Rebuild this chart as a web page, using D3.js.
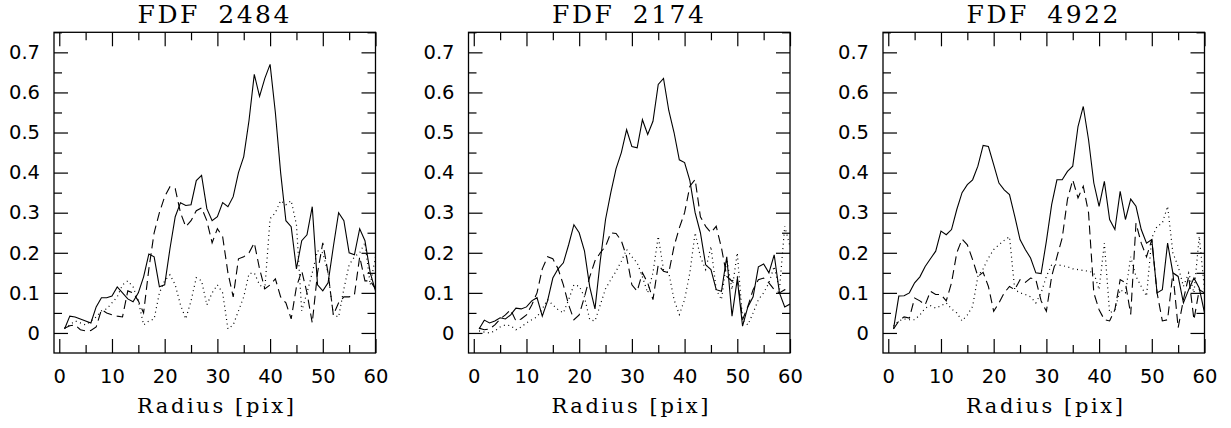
<!DOCTYPE html>
<html>
<head>
<meta charset="utf-8">
<script src="https://cdn.jsdelivr.net/npm/d3@7"></script>
<style>
  html, body { margin: 0; padding: 0; background: #fff; }
  svg { display: block; }
  .tick text { font-family: "DejaVu Sans", sans-serif; font-size: 19.5px; fill: #000; }
  .title, .xlabel { font-family: "DejaVu Serif", serif; fill: #000; white-space: pre; }
</style>
</head>
<body>
<svg id="chart" width="1231" height="428"></svg>
<script>
// panel titles
const titles = ['FDF 2484', 'FDF 2174', 'FDF 4922'];
const radii = d3.range(1, 61);

const xTicks = [0, 10, 20, 30, 40, 50, 60];
const yTicks = [0, 0.1, 0.2, 0.3, 0.4, 0.5, 0.6, 0.7];

// FDF 2484
const s2484Solid = [0.01,0.042,0.04,0.035,0.03,0.025,0.065,0.088,0.088,0.092,
  0.115,0.1,0.085,0.078,0.1,0.14,0.197,0.19,0.115,0.12,
  0.21,0.29,0.325,0.318,0.32,0.38,0.393,0.31,0.28,0.29,
  0.325,0.315,0.34,0.4,0.44,0.53,0.645,0.59,0.635,0.67,
  0.55,0.4,0.28,0.265,0.16,0.23,0.245,0.315,0.12,0.105,
  0.125,0.215,0.3,0.28,0.2,0.195,0.26,0.23,0.15,0.105];
const s2484Dashed = [0.012,0.018,0.02,0.008,0.005,0.006,0.015,0.058,0.05,0.045,
  0.042,0.04,0.105,0.1,0.08,0.05,0.16,0.25,0.3,0.34,
  0.365,0.36,0.3,0.265,0.28,0.305,0.312,0.28,0.225,0.26,
  0.24,0.15,0.09,0.185,0.19,0.2,0.225,0.16,0.11,0.12,
  0.135,0.09,0.075,0.035,0.115,0.155,0.1,0.025,0.15,0.225,
  0.15,0.045,0.075,0.09,0.09,0.095,0.19,0.13,0.13,0.11];
const s2484Dotted = [0.012,0.02,0.03,0.025,0.02,0.03,0.04,0.055,0.06,0.075,
  0.09,0.12,0.13,0.115,0.08,0.02,0.03,0.035,0.1,0.13,
  0.145,0.12,0.07,0.035,0.08,0.138,0.13,0.07,0.1,0.12,
  0.1,0.01,0.02,0.055,0.09,0.148,0.15,0.12,0.11,0.285,
  0.3,0.33,0.32,0.33,0.27,0.055,0.1,0.15,0.205,0.2,
  0.15,0.045,0.04,0.11,0.17,0.19,0.2,0.225,0.12,0.19];

// FDF 2174
const s2174Solid = [0.01,0.032,0.025,0.03,0.038,0.035,0.045,0.062,0.06,0.065,
  0.08,0.088,0.042,0.08,0.137,0.16,0.175,0.22,0.27,0.25,
  0.205,0.115,0.06,0.18,0.283,0.35,0.41,0.45,0.507,0.465,
  0.462,0.532,0.495,0.528,0.62,0.635,0.555,0.5,0.432,0.425,
  0.38,0.3,0.25,0.17,0.158,0.108,0.104,0.19,0.042,0.135,
  0.017,0.065,0.09,0.165,0.172,0.15,0.195,0.1,0.065,0.072];
const s2174Dashed = [0.012,0.008,0.01,0.02,0.035,0.045,0.058,0.03,0.035,0.045,
  0.07,0.1,0.16,0.19,0.185,0.16,0.12,0.07,0.033,0.045,
  0.09,0.14,0.18,0.2,0.216,0.25,0.248,0.23,0.19,0.12,
  0.104,0.15,0.125,0.083,0.17,0.154,0.15,0.216,0.262,0.3,
  0.366,0.383,0.29,0.266,0.25,0.266,0.212,0.141,0.129,0.14,
  0.033,0.066,0.108,0.133,0.137,0.125,0.108,0.1,0.108,0.1];
const s2174Dotted = [0.005,0.002,0.0,0.005,0.015,0.02,0.018,0.008,0.015,0.025,
  0.033,0.04,0.06,0.083,0.07,0.058,0.05,0.083,0.12,0.117,
  0.09,0.033,0.03,0.07,0.11,0.133,0.154,0.179,0.208,0.19,
  0.175,0.14,0.1,0.15,0.241,0.158,0.15,0.083,0.046,0.083,
  0.15,0.25,0.19,0.158,0.216,0.108,0.083,0.183,0.108,0.2,
  0.033,0.02,0.05,0.083,0.1,0.125,0.166,0.108,0.266,0.216];

// FDF 4922
const s4922Solid = [0.01,0.092,0.093,0.1,0.125,0.14,0.166,0.185,0.204,0.254,
  0.245,0.258,0.308,0.35,0.37,0.382,0.416,0.468,0.465,0.42,
  0.374,0.357,0.345,0.291,0.233,0.208,0.187,0.15,0.148,0.229,
  0.32,0.382,0.382,0.403,0.416,0.515,0.565,0.482,0.374,0.316,
  0.378,0.283,0.258,0.353,0.283,0.334,0.316,0.258,0.224,0.233,
  0.1,0.108,0.224,0.15,0.141,0.075,0.108,0.137,0.112,0.05];
const s4922Dashed = [0.01,0.03,0.04,0.037,0.087,0.08,0.07,0.104,0.096,0.096,
  0.08,0.125,0.2,0.234,0.22,0.183,0.141,0.151,0.116,0.054,
  0.075,0.1,0.116,0.108,0.133,0.126,0.137,0.133,0.08,0.054,
  0.141,0.19,0.237,0.333,0.382,0.337,0.366,0.3,0.1,0.058,
  0.033,0.03,0.058,0.133,0.125,0.046,0.274,0.224,0.19,0.233,
  0.1,0.03,0.033,0.15,0.013,0.083,0.141,0.033,0.108,0.1];
const s4922Dotted = [0.017,0.03,0.035,0.033,0.033,0.045,0.062,0.068,0.062,0.068,
  0.075,0.06,0.05,0.03,0.045,0.066,0.141,0.16,0.187,0.208,
  0.22,0.231,0.24,0.108,0.1,0.096,0.09,0.075,0.1,0.141,
  0.17,0.17,0.168,0.165,0.16,0.158,0.156,0.154,0.15,0.108,
  0.224,0.05,0.058,0.108,0.1,0.19,0.141,0.116,0.092,0.237,
  0.266,0.274,0.316,0.2,0.166,0.116,0.15,0.1,0.241,0.108];

const panels = [
  {title: titles[0], solid: s2484Solid, dashed: s2484Dashed, dotted: s2484Dotted},
  {title: titles[1], solid: s2174Solid, dashed: s2174Dashed, dotted: s2174Dotted},
  {title: titles[2], solid: s4922Solid, dashed: s4922Dashed, dotted: s4922Dotted}
];

const lefts = [54, 468.5, 883];
const plotTop = 32.3;
const w = 321.5;
const h = 320.7;
const majorLen = 14, minorLen = 8;

const svg = d3.select('#chart');

const x = d3.scaleLinear().domain([-1, 60]).range([0, w]);
const y = d3.scaleLinear().domain([-0.05, 0.75]).range([h, 0]);

const xMinor = d3.range(0, 61, 5).filter(v => v % 10 !== 0);
const yMinor = d3.range(0, 15).map(i => i * 0.05 + 0.05).filter((v, i) => i % 2 === 0);

const styleAxis = sel => {
  sel.select('.domain').remove();
  sel.selectAll('.tick line').attr('stroke', '#000').attr('stroke-width', 1.2);
};

panels.forEach((p, pi) => {
  const g = svg.append('g').attr('transform', `translate(${lefts[pi]},${plotTop})`);

  g.append('clipPath').attr('id', 'clip' + pi)
    .append('rect').attr('width', w).attr('height', h);

  // major ticks + labels
  g.append('g').attr('transform', `translate(0,${h})`)
    .call(d3.axisBottom(x).tickValues(xTicks).tickSizeInner(-majorLen).tickSizeOuter(0).tickPadding(16).tickFormat(d3.format('d')))
    .call(styleAxis);
  g.append('g')
    .call(d3.axisLeft(y).tickValues(yTicks).tickSizeInner(-majorLen).tickSizeOuter(0).tickPadding(14).tickFormat(d => d === 0 ? '0' : d3.format('.1f')(d)))
    .call(styleAxis);

  g.append('g').call(d3.axisTop(x).tickValues(xTicks).tickSizeInner(-majorLen).tickSizeOuter(0).tickFormat(''))
    .call(styleAxis);
  g.append('g').attr('transform', `translate(${w},0)`)
    .call(d3.axisRight(y).tickValues(yTicks).tickSizeInner(-majorLen).tickSizeOuter(0).tickFormat(''))
    .call(styleAxis);

  // minor ticks
  g.append('g').attr('transform', `translate(0,${h})`)
    .call(d3.axisBottom(x).tickValues(xMinor).tickSizeInner(-minorLen).tickSizeOuter(0).tickFormat(''))
    .call(styleAxis);
  g.append('g').call(d3.axisTop(x).tickValues(xMinor).tickSizeInner(-minorLen).tickSizeOuter(0).tickFormat(''))
    .call(styleAxis);
  g.append('g').call(d3.axisLeft(y).tickValues(yMinor).tickSizeInner(-minorLen).tickSizeOuter(0).tickFormat(''))
    .call(styleAxis);
  g.append('g').attr('transform', `translate(${w},0)`)
    .call(d3.axisRight(y).tickValues(yMinor).tickSizeInner(-minorLen).tickSizeOuter(0).tickFormat(''))
    .call(styleAxis);

  g.append('rect').attr('width', w).attr('height', h)
    .attr('fill', 'none').attr('stroke', '#000').attr('stroke-width', 1.3);

  const line = d3.line().x((d, i) => x(radii[i])).y(d => y(d));
  const lines = g.append('g').attr('clip-path', `url(#clip${pi})`);
  lines.append('path').datum(p.solid).attr('d', line)
    .attr('fill', 'none').attr('stroke', '#000').attr('stroke-width', 1.1);
  lines.append('path').datum(p.dashed).attr('d', line)
    .attr('fill', 'none').attr('stroke', '#000').attr('stroke-width', 1.1)
    .attr('stroke-dasharray', '9,5');
  lines.append('path').datum(p.dotted).attr('d', line)
    .attr('fill', 'none').attr('stroke', '#000').attr('stroke-width', 1.2)
    .attr('stroke-dasharray', '1,3.5');

  g.append('text').attr('class', 'title')
    .attr('x', w / 2).attr('y', -9)
    .attr('text-anchor', 'middle')
    .style('font-size', '25px').style('letter-spacing', '2.5px').style('word-spacing', '8px')
    .text(p.title);

  g.append('text').attr('class', 'xlabel')
    .attr('x', w / 2 + 2).attr('y', h + 60)
    .attr('text-anchor', 'middle')
    .style('font-size', '21px').style('letter-spacing', '2.6px')
    .text('Radius [pix]');
});
</script>
</body>
</html>
